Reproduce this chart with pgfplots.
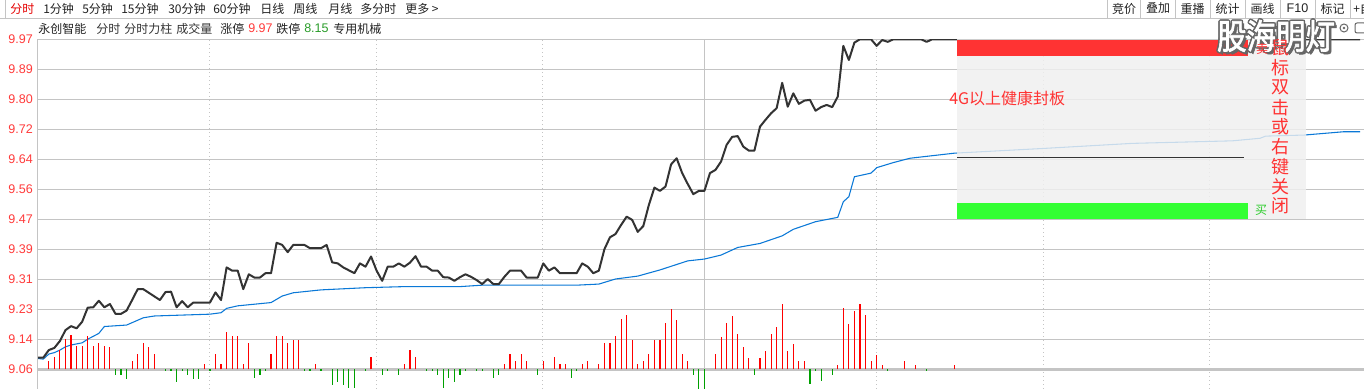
\documentclass[border=0pt]{standalone}
\usepackage{fontspec}
\setmainfont{Noto Sans CJK SC}
\newfontfamily\arial{Liberation Sans}
\newfontfamily\wmfont[FakeBold=2]{Noto Sans CJK SC}
\usepackage{pgfplots}
\usepackage{pgfplotstable}
\pgfplotsset{compat=1.18}

\definecolor{gridc}{HTML}{C4C4C4}
\definecolor{pricec}{HTML}{333333}
\definecolor{avgc}{HTML}{0A78D7}
\definecolor{upc}{HTML}{FF0000}
\definecolor{dnc}{HTML}{00A000}
\definecolor{tickred}{HTML}{FF3B3B}
\definecolor{boxg}{HTML}{F0F0F0}
\definecolor{sellr}{HTML}{FF3333}
\definecolor{buyg}{HTML}{33FF33}
\definecolor{txt}{HTML}{222222}
\definecolor{txtg}{HTML}{333333}
\definecolor{limgreen}{HTML}{2A9D2A}

\pgfplotstableread{
i p
0 9.092
1 9.092
2 9.113
3 9.119
4 9.138
5 9.168
6 9.179
7 9.173
8 9.191
9 9.230
10 9.231
11 9.249
12 9.231
13 9.240
14 9.213
15 9.213
16 9.222
17 9.251
18 9.281
19 9.281
20 9.271
21 9.261
22 9.251
23 9.273
24 9.274
25 9.231
26 9.248
27 9.231
28 9.244
29 9.244
30 9.244
31 9.244
32 9.272
33 9.251
34 9.341
35 9.332
36 9.332
37 9.281
38 9.322
39 9.313
40 9.313
41 9.325
42 9.325
43 9.409
44 9.403
45 9.383
46 9.403
47 9.403
48 9.403
49 9.394
50 9.394
51 9.394
52 9.403
53 9.355
54 9.352
55 9.341
56 9.333
57 9.325
58 9.352
59 9.343
60 9.371
61 9.332
62 9.304
63 9.343
64 9.343
65 9.352
66 9.343
67 9.354
68 9.372
69 9.343
70 9.343
71 9.332
72 9.332
73 9.314
74 9.313
75 9.304
76 9.314
77 9.322
78 9.315
79 9.306
80 9.295
81 9.309
82 9.295
83 9.295
84 9.315
85 9.332
86 9.332
87 9.332
88 9.313
89 9.313
90 9.313
91 9.352
92 9.332
93 9.341
94 9.325
95 9.325
96 9.325
97 9.325
98 9.352
99 9.343
100 9.325
101 9.332
102 9.391
103 9.424
104 9.433
105 9.458
106 9.481
107 9.472
108 9.439
109 9.455
110 9.513
111 9.561
112 9.552
113 9.564
114 9.625
115 9.642
116 9.601
117 9.571
118 9.543
119 9.552
120 9.552
121 9.601
122 9.610
123 9.633
124 9.679
125 9.701
126 9.703
127 9.674
128 9.663
129 9.663
130 9.729
131 9.748
132 9.766
133 9.780
134 9.850
135 9.784
136 9.821
137 9.792
138 9.801
139 9.803
140 9.773
141 9.783
142 9.789
143 9.783
144 9.812
145 9.952
146 9.913
147 9.961
148 9.970
149 9.970
150 9.970
151 9.952
152 9.968
153 9.963
154 9.970
159 9.970
160 9.963
161 9.970
238 9.970
}\pricetable

\pgfplotstableread{
i p
0 9.090
1 9.088
2 9.102
3 9.106
4 9.113
5 9.122
6 9.127
8 9.133
9 9.143
11 9.159
12 9.178
14 9.180
16 9.182
19 9.202
21 9.207
25 9.209
31 9.212
33 9.216
34 9.228
36 9.235
42 9.244
44 9.262
46 9.271
51 9.279
59 9.285
66 9.288
76 9.288
80 9.292
97 9.292
101 9.295
104 9.309
108 9.317
112 9.334
117 9.359
120 9.364
123 9.375
126 9.396
130 9.407
134 9.428
136 9.446
140 9.467
144 9.479
145 9.522
146 9.536
147 9.591
150 9.601
151 9.616
154 9.630
157 9.642
165 9.656
181 9.669
197 9.683
215 9.690
220 9.697
221 9.703
228 9.706
235 9.715
238 9.715
}\avgtable

\pgfplotstableread{
i v
2 8.3
3 12.7
4 19.3
5 30.3
6 34.3
7 23.7
8 23.7
9 33.3
10 23.3
11 26.7
12 23.3
13 22.7
17 8.3
18 15.3
19 26
20 22.7
21 15.3
30 5.3
32 15.3
33 5.3
34 37.7
35 33.3
36 33.3
37 5.3
38 26.7
42 15.3
43 33.3
44 33.3
45 26.7
46 29.3
47 29.3
50 5.3
60 12.7
66 5.3
67 19.3
68 12.7
84 5.3
85 15.3
86 8.3
87 15.3
88 8.3
91 8.3
93 12.7
94 5.3
95 5.3
98 5.3
99 8.3
101 5.3
102 26.7
103 26.7
104 33.3
105 50.3
106 54.3
107 29.3
108 5.3
109 8.3
110 15.3
111 29.3
112 29.3
113 46.7
114 60.3
115 49.3
116 15.3
117 8.3
122 15.3
123 32
124 46
125 53.3
126 35.3
127 22
128 11.3
130 11.3
131 18.3
132 35.3
133 42.3
134 65.3
135 18.3
136 25.3
137 8.3
138 8.3
144 4.3
145 61.7
146 45
147 58.3
148 65.3
149 54.3
150 8.3
151 14.3
152 4.3
156 8.3
158 4.3
165 4.3
}\uptable

\pgfplotstableread{
i v
14 -5.7
15 -5.7
16 -9.7
23 -1.7
24 -1.7
25 -12.3
26 -1.7
27 -5.7
28 -9.7
29 -9.7
31 -1.7
39 -8.3
40 -5.7
41 -1.7
48 -1.7
49 -1.7
51 -1.7
53 -15.7
54 -12.3
55 -15.7
56 -19
57 -19
59 -1.7
62 -5.7
63 -1.7
65 -5.7
70 -1.7
71 -1.7
72 -5.7
73 -19
74 -8.3
75 -12.3
76 -5.7
77 -1.7
79 -1.7
80 -1.7
82 -8.3
83 -5.7
90 -5.7
96 -8.3
97 -1.7
118 -5.7
119 -19.7
120 -19.7
129 -5.7
139 -15
140 -1.7
141 -11.3
143 -5.7
153 -1.7
160 -1.7
}\dntable

\begin{document}
\begin{tikzpicture}
\useasboundingbox (0,0) rectangle (1023pt,291.75pt);
\clip (0,0) rectangle (1023pt,291.75pt);
\fill[white] (0,0) rectangle (1023pt,291.75pt);

% price axis
\begin{axis}[
  at={(28.275pt,0pt)}, anchor=south west,
  scale only axis, width=994.725pt, height=262.275pt,
  xmin=0, xmax=238.72, ymin=9.00567, ymax=9.97,
  axis line style={draw=none},
  major tick length=0pt,
  xtick=\empty,
  ytick={9.97,9.887273,9.804545,9.721818,9.639091,9.556364,9.473636,9.390909,9.308182,9.225455,9.142727},
  yticklabels={9.97,9.89,9.80,9.72,9.64,9.56,9.47,9.39,9.31,9.23,9.14},
  extra y ticks={9.06}, extra y tick labels={9.06},
  extra y tick style={grid style={gridc, line width=2.2pt}},
  ymajorgrids,
  grid style={gridc, line width=0.75pt},
  /pgf/number format/assume math mode=true,
  yticklabel style={font=\arial\fontsize{9.4}{10}\selectfont, text=tickred, inner sep=0pt, xshift=-3.5pt},
  clip=true,
]
\foreach \xx in {30.9,61,90.9,150.9,181,210.9}{
  \edef\tmp{\noexpand\draw[gridc, line width=0.75pt, dash pattern=on 0.75pt off 2.25pt] (axis cs:\xx,9.00567) -- (axis cs:\xx,9.97);}\tmp
}
\draw[gridc, line width=0.75pt] (axis cs:120,9.00567) -- (axis cs:120,9.97);
\addplot[avgc, line width=0.8pt, no marks] table[x=i,y=p] {\avgtable};
\addplot[pricec, line width=1.5pt, no marks, line join=round] table[x=i,y=p] {\pricetable};
\end{axis}

% volume bars axis
\begin{axis}[
  at={(28.275pt,0pt)}, anchor=south west,
  scale only axis, width=994.725pt, height=262.275pt,
  xmin=0, xmax=238.72, ymin=-19.7, ymax=330,
  hide axis, clip=true,
]
\addplot[ycomb, upc, line width=0.85pt, no marks] table[x=i,y=v] {\uptable};
\addplot[ycomb, dnc, line width=0.85pt, no marks] table[x=i,y=v] {\dntable};
\end{axis}

\begin{scope}[x=0.75pt, y=-0.75pt, yshift=291.75pt]
% left axis line
\draw[gridc, line width=0.75pt] (37.7,39.3) -- (37.7,389);
% toolbar
\draw[gridc, line width=0.75pt] (5,0) -- (5,18.3);
\draw[gridc, line width=0.75pt] (0,18.3) -- (1364,18.3);
\begin{scope}[every node/.style={anchor=west, inner sep=0pt, font=\fontsize{9}{9}\selectfont, text=txt}]
\node[text=red!90!black] at (10,8.5) {分时};
\node at (43,8.5) {1分钟};
\node at (82,8.5) {5分钟};
\node at (121,8.5) {15分钟};
\node at (168,8.5) {30分钟};
\node at (213,8.5) {60分钟};
\node at (260,8.5) {日线};
\node at (293,8.5) {周线};
\node at (328,8.5) {月线};
\node at (360,8.5) {多分时};
\node at (405,8.5) {更多 >};
% second row
\node at (38,28.5) {永创智能};
\node[text=txtg] at (96,28.5) {分时};
\node[text=txtg] at (124,28.5) {分时力柱};
\node[text=txtg] at (176,28.5) {成交量};
\node at (220,28.5) {涨停};
\node[text=tickred, font=\arial\fontsize{9.4}{9.4}\selectfont] at (248,28.5) {9.97};
\node at (276,28.5) {跌停};
\node[text=limgreen, font=\arial\fontsize{9.4}{9.4}\selectfont] at (304,28.5) {8.15};
\node at (333,28.5) {专用机械};
\node at (1353,8.5) {+自选};
\end{scope}
\foreach \sx in {1107,1140.7,1175,1210,1245,1280,1315,1350}{
  \draw[gridc, line width=0.75pt] (\sx,0) -- (\sx,18.3);
}
\begin{scope}[every node/.style={inner sep=0pt, font=\fontsize{9}{9}\selectfont, text=txt}]
\node at (1124,8.5) {竞价};
\node at (1158,8.5) {叠加};
\node at (1192.5,8.5) {重播};
\node at (1227.5,8.5) {统计};
\node at (1262.5,8.5) {画线};
\node[font=\arial\fontsize{9.4}{9.4}\selectfont] at (1297.5,8.5) {F10};
\node at (1332.5,8.5) {标记};
\end{scope}

% overlay box
\fill[boxg, opacity=0.82] (957,39.3) rectangle (1305.7,219);
\fill[sellr] (957,40.3) rectangle (1247.7,55.7);
\fill[buyg] (957,203) rectangle (1247.7,219);
\draw[pricec, line width=0.75pt] (957,157.3) -- (1244,157.3);
\node[anchor=west, inner sep=0pt, text=sellr, font=\fontsize{12}{12}\selectfont] at (949,98) {4G以上健康封板};
\node[inner sep=0pt, text=buyg!80!black, font=\fontsize{9}{9}\selectfont] at (1261,210.5) {买};

% watermark
\foreach \dx/\dy in {-1.5/0,1.5/0,0/-1.5,0/1.5,-1.1/-1.1,1.1/1.1,-1.1/1.1,1.1/-1.1,2.5/2.5}{
  \node[inner sep=0pt, text=black!60, font=\wmfont\fontsize{26}{26}\selectfont] at ({1276+\dx},{36+\dy}) {\scalebox{0.85}[1]{股海明灯}};
}
\node[inner sep=0pt, text=white, font=\wmfont\fontsize{26}{26}\selectfont] at (1276,36) {\scalebox{0.85}[1]{股海明灯}};
\node[inner sep=0pt, text=sellr, font=\fontsize{9}{9}\selectfont] at (1262,48.5) {卖};
\foreach \ch [count=\k from 0] in {鼠,标,双,击,或,右,键,关,闭}{
  \node[inner sep=0pt, text=sellr, font=\fontsize{13.5}{13.5}\selectfont] at (1280,{48+19.75*\k}) {\ch};
}
% small icons
\draw[black!60, line width=0.75pt] (1344,28) circle (4);
\fill[black!60] (1344,28) circle (1.3);
\draw[black!60, line width=0.75pt, rounded corners=1.5] (1355,23) rectangle (1366,33);
\end{scope}
\end{tikzpicture}
\end{document}
